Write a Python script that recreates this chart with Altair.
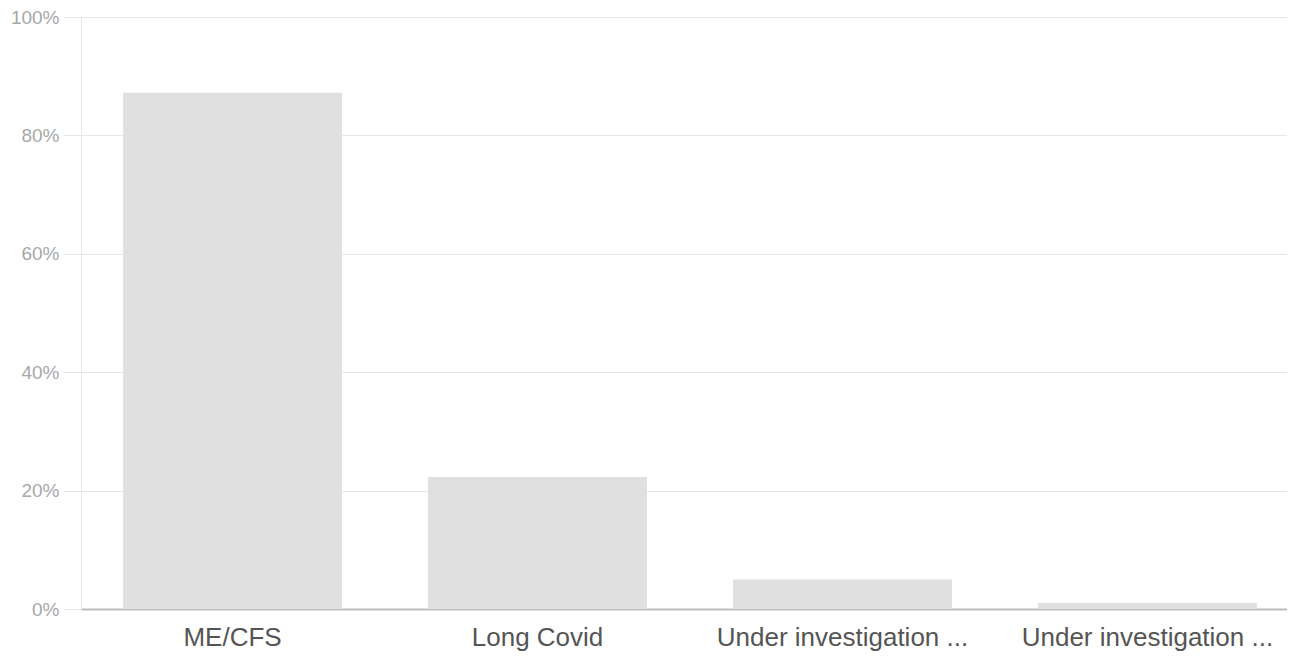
import altair as alt
import pandas as pd

categories = ["ME/CFS", "Long Covid", "Under investigation ...", "Under investigation ..."]
values = [87.2, 22.3, 5.0, 1.0]
y_ticks = [0, 20, 40, 60, 80, 100]

df = pd.DataFrame({"idx": list(range(len(categories))), "label": categories, "value": values})

label_js = "[" + ",".join("'" + c + "'" for c in categories) + "]"

chart = alt.Chart(df).mark_bar(color="#e0e0e0").encode(
    x=alt.X("idx:O",
            scale=alt.Scale(range=[0, 1218], paddingInner=0.282, paddingOuter=0.138),
            axis=alt.Axis(title=None, labelAngle=0, labelExpr=label_js + "[datum.value]",
                          labelFont="Liberation Sans", labelFontSize=26, labelColor="#555555",
                          labelPadding=15, ticks=False, domainColor="#bdbdbd", domainWidth=2,
                          labelLimit=400, grid=False)),
    y=alt.Y("value:Q",
            scale=alt.Scale(domain=[0, 100], nice=False),
            axis=alt.Axis(title=None, values=y_ticks, labelExpr="datum.value + '%'",
                          labelFont="Liberation Sans", labelFontSize=19, labelColor="#a8a8a8",
                          labelPadding=4, tickSize=18, tickColor="#e6e6e6",
                          gridColor="#e6e6e6", domainColor="#e6e6e6", domain=True)),
).properties(
    width=1206, height=592,
    autosize=alt.AutoSizeParams(type="none"),
    padding={"left": 73, "top": 9, "right": 0, "bottom": 44},
).configure_view(stroke=None)

chart.save("out.html", embed_options={"renderer": "svg", "actions": False})
